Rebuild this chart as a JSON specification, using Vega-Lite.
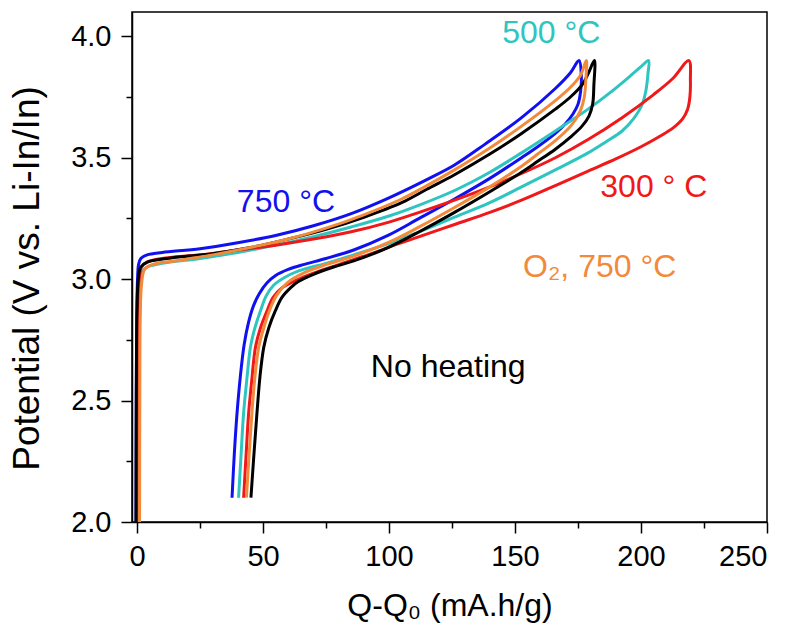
{
  "$schema": "https://vega.github.io/schema/vega-lite/v6.json",
  "width": 635,
  "height": 510,
  "autosize": "none",
  "padding": {"left": 132, "top": 12, "right": 28, "bottom": 105},
  "background": "white",
  "config": {
    "view": {"stroke": "black", "strokeWidth": 1.5},
    "font": "Liberation Sans"
  },
  "datasets": {
    "curves": [
      {"s": "750 °C", "o": 1, "q": -0.4, "v": 2.0},
      {"s": "750 °C", "o": 2, "q": -0.3, "v": 2.5},
      {"s": "750 °C", "o": 3, "q": -0.1, "v": 2.85},
      {"s": "750 °C", "o": 4, "q": 0.2, "v": 3.0},
      {"s": "750 °C", "o": 5, "q": 0.6, "v": 3.06},
      {"s": "750 °C", "o": 6, "q": 1.5, "v": 3.085},
      {"s": "750 °C", "o": 7, "q": 4, "v": 3.1},
      {"s": "750 °C", "o": 8, "q": 10, "v": 3.11},
      {"s": "750 °C", "o": 9, "q": 25, "v": 3.125},
      {"s": "750 °C", "o": 10, "q": 40, "v": 3.15},
      {"s": "750 °C", "o": 11, "q": 55, "v": 3.18},
      {"s": "750 °C", "o": 12, "q": 70, "v": 3.22},
      {"s": "750 °C", "o": 13, "q": 85, "v": 3.27},
      {"s": "750 °C", "o": 14, "q": 100, "v": 3.335},
      {"s": "750 °C", "o": 15, "q": 115, "v": 3.41},
      {"s": "750 °C", "o": 16, "q": 126, "v": 3.47},
      {"s": "750 °C", "o": 17, "q": 138, "v": 3.555},
      {"s": "750 °C", "o": 18, "q": 152.6, "v": 3.665},
      {"s": "750 °C", "o": 19, "q": 166, "v": 3.785},
      {"s": "750 °C", "o": 20, "q": 172, "v": 3.85},
      {"s": "750 °C", "o": 21, "q": 175.4, "v": 3.9},
      {"s": "750 °C", "o": 22, "q": 176.3, "v": 3.84},
      {"s": "750 °C", "o": 23, "q": 176.0, "v": 3.77},
      {"s": "750 °C", "o": 24, "q": 175.0, "v": 3.72},
      {"s": "750 °C", "o": 25, "q": 173, "v": 3.68},
      {"s": "750 °C", "o": 26, "q": 170, "v": 3.64},
      {"s": "750 °C", "o": 27, "q": 166, "v": 3.6},
      {"s": "750 °C", "o": 28, "q": 159, "v": 3.545},
      {"s": "750 °C", "o": 29, "q": 152.6, "v": 3.5},
      {"s": "750 °C", "o": 30, "q": 140, "v": 3.415},
      {"s": "750 °C", "o": 31, "q": 126, "v": 3.33},
      {"s": "750 °C", "o": 32, "q": 112, "v": 3.25},
      {"s": "750 °C", "o": 33, "q": 99.6, "v": 3.18},
      {"s": "750 °C", "o": 34, "q": 86, "v": 3.12},
      {"s": "750 °C", "o": 35, "q": 75, "v": 3.085},
      {"s": "750 °C", "o": 36, "q": 66, "v": 3.06},
      {"s": "750 °C", "o": 37, "q": 60, "v": 3.04},
      {"s": "750 °C", "o": 38, "q": 55, "v": 3.015},
      {"s": "750 °C", "o": 39, "q": 51.6, "v": 2.985},
      {"s": "750 °C", "o": 40, "q": 48.5, "v": 2.94},
      {"s": "750 °C", "o": 41, "q": 46.2, "v": 2.89},
      {"s": "750 °C", "o": 42, "q": 44.2, "v": 2.82},
      {"s": "750 °C", "o": 43, "q": 42.5, "v": 2.73},
      {"s": "750 °C", "o": 44, "q": 41, "v": 2.6},
      {"s": "750 °C", "o": 45, "q": 39.7, "v": 2.45},
      {"s": "750 °C", "o": 46, "q": 38.6, "v": 2.28},
      {"s": "750 °C", "o": 47, "q": 37.7, "v": 2.1},

      {"s": "500 °C", "o": 1, "q": 0.6, "v": 2.0},
      {"s": "500 °C", "o": 2, "q": 0.7, "v": 2.5},
      {"s": "500 °C", "o": 3, "q": 0.9, "v": 2.85},
      {"s": "500 °C", "o": 4, "q": 1.3, "v": 2.98},
      {"s": "500 °C", "o": 5, "q": 2, "v": 3.03},
      {"s": "500 °C", "o": 6, "q": 4, "v": 3.05},
      {"s": "500 °C", "o": 7, "q": 10, "v": 3.065},
      {"s": "500 °C", "o": 8, "q": 25, "v": 3.085},
      {"s": "500 °C", "o": 9, "q": 40, "v": 3.11},
      {"s": "500 °C", "o": 10, "q": 55, "v": 3.14},
      {"s": "500 °C", "o": 11, "q": 70, "v": 3.175},
      {"s": "500 °C", "o": 12, "q": 85, "v": 3.215},
      {"s": "500 °C", "o": 13, "q": 100, "v": 3.26},
      {"s": "500 °C", "o": 14, "q": 112, "v": 3.305},
      {"s": "500 °C", "o": 15, "q": 126, "v": 3.365},
      {"s": "500 °C", "o": 16, "q": 140, "v": 3.44},
      {"s": "500 °C", "o": 17, "q": 152.6, "v": 3.52},
      {"s": "500 °C", "o": 18, "q": 166, "v": 3.61},
      {"s": "500 °C", "o": 19, "q": 179, "v": 3.7},
      {"s": "500 °C", "o": 20, "q": 188, "v": 3.77},
      {"s": "500 °C", "o": 21, "q": 195, "v": 3.83},
      {"s": "500 °C", "o": 22, "q": 200, "v": 3.875},
      {"s": "500 °C", "o": 23, "q": 203, "v": 3.9},
      {"s": "500 °C", "o": 24, "q": 202.8, "v": 3.85},
      {"s": "500 °C", "o": 25, "q": 202, "v": 3.78},
      {"s": "500 °C", "o": 26, "q": 200.5, "v": 3.72},
      {"s": "500 °C", "o": 27, "q": 197, "v": 3.66},
      {"s": "500 °C", "o": 28, "q": 192.5, "v": 3.61},
      {"s": "500 °C", "o": 29, "q": 186, "v": 3.565},
      {"s": "500 °C", "o": 30, "q": 179, "v": 3.52},
      {"s": "500 °C", "o": 31, "q": 166, "v": 3.45},
      {"s": "500 °C", "o": 32, "q": 152.6, "v": 3.38},
      {"s": "500 °C", "o": 33, "q": 140, "v": 3.315},
      {"s": "500 °C", "o": 34, "q": 126, "v": 3.255},
      {"s": "500 °C", "o": 35, "q": 112, "v": 3.195},
      {"s": "500 °C", "o": 36, "q": 99.6, "v": 3.145},
      {"s": "500 °C", "o": 37, "q": 86, "v": 3.1},
      {"s": "500 °C", "o": 38, "q": 75, "v": 3.065},
      {"s": "500 °C", "o": 39, "q": 66, "v": 3.04},
      {"s": "500 °C", "o": 40, "q": 60, "v": 3.015},
      {"s": "500 °C", "o": 41, "q": 54.2, "v": 2.975},
      {"s": "500 °C", "o": 42, "q": 51.2, "v": 2.93},
      {"s": "500 °C", "o": 43, "q": 49, "v": 2.87},
      {"s": "500 °C", "o": 44, "q": 46.8, "v": 2.8},
      {"s": "500 °C", "o": 45, "q": 45, "v": 2.72},
      {"s": "500 °C", "o": 46, "q": 43.5, "v": 2.58},
      {"s": "500 °C", "o": 47, "q": 42.3, "v": 2.45},
      {"s": "500 °C", "o": 48, "q": 41.3, "v": 2.28},
      {"s": "500 °C", "o": 49, "q": 40.3, "v": 2.1},

      {"s": "300 °C", "o": 1, "q": 0.2, "v": 2.0},
      {"s": "300 °C", "o": 2, "q": 0.3, "v": 2.5},
      {"s": "300 °C", "o": 3, "q": 0.5, "v": 2.88},
      {"s": "300 °C", "o": 4, "q": 0.9, "v": 3.0},
      {"s": "300 °C", "o": 5, "q": 1.8, "v": 3.05},
      {"s": "300 °C", "o": 6, "q": 4, "v": 3.07},
      {"s": "300 °C", "o": 7, "q": 10, "v": 3.085},
      {"s": "300 °C", "o": 8, "q": 25, "v": 3.1},
      {"s": "300 °C", "o": 9, "q": 40, "v": 3.12},
      {"s": "300 °C", "o": 10, "q": 55, "v": 3.14},
      {"s": "300 °C", "o": 11, "q": 70, "v": 3.165},
      {"s": "300 °C", "o": 12, "q": 85, "v": 3.195},
      {"s": "300 °C", "o": 13, "q": 100, "v": 3.235},
      {"s": "300 °C", "o": 14, "q": 112, "v": 3.275},
      {"s": "300 °C", "o": 15, "q": 126, "v": 3.325},
      {"s": "300 °C", "o": 16, "q": 140, "v": 3.38},
      {"s": "300 °C", "o": 17, "q": 152.6, "v": 3.435},
      {"s": "300 °C", "o": 18, "q": 166, "v": 3.5},
      {"s": "300 °C", "o": 19, "q": 179, "v": 3.575},
      {"s": "300 °C", "o": 20, "q": 192.5, "v": 3.665},
      {"s": "300 °C", "o": 21, "q": 205, "v": 3.76},
      {"s": "300 °C", "o": 22, "q": 212.5, "v": 3.825},
      {"s": "300 °C", "o": 23, "q": 219, "v": 3.9},
      {"s": "300 °C", "o": 24, "q": 219.6, "v": 3.82},
      {"s": "300 °C", "o": 25, "q": 219.4, "v": 3.75},
      {"s": "300 °C", "o": 26, "q": 218.5, "v": 3.7},
      {"s": "300 °C", "o": 27, "q": 216.5, "v": 3.66},
      {"s": "300 °C", "o": 28, "q": 213, "v": 3.625},
      {"s": "300 °C", "o": 29, "q": 207, "v": 3.585},
      {"s": "300 °C", "o": 30, "q": 200, "v": 3.545},
      {"s": "300 °C", "o": 31, "q": 190, "v": 3.495},
      {"s": "300 °C", "o": 32, "q": 179, "v": 3.445},
      {"s": "300 °C", "o": 33, "q": 166, "v": 3.385},
      {"s": "300 °C", "o": 34, "q": 152.6, "v": 3.325},
      {"s": "300 °C", "o": 35, "q": 140, "v": 3.275},
      {"s": "300 °C", "o": 36, "q": 126, "v": 3.225},
      {"s": "300 °C", "o": 37, "q": 112, "v": 3.175},
      {"s": "300 °C", "o": 38, "q": 103.5, "v": 3.145},
      {"s": "300 °C", "o": 39, "q": 93, "v": 3.105},
      {"s": "300 °C", "o": 40, "q": 80, "v": 3.06},
      {"s": "300 °C", "o": 41, "q": 70, "v": 3.025},
      {"s": "300 °C", "o": 42, "q": 63, "v": 2.995},
      {"s": "300 °C", "o": 43, "q": 57.6, "v": 2.965},
      {"s": "300 °C", "o": 44, "q": 54, "v": 2.925},
      {"s": "300 °C", "o": 45, "q": 51.6, "v": 2.87},
      {"s": "300 °C", "o": 46, "q": 49, "v": 2.8},
      {"s": "300 °C", "o": 47, "q": 47, "v": 2.72},
      {"s": "300 °C", "o": 48, "q": 45.5, "v": 2.58},
      {"s": "300 °C", "o": 49, "q": 44.3, "v": 2.45},
      {"s": "300 °C", "o": 50, "q": 43.3, "v": 2.28},
      {"s": "300 °C", "o": 51, "q": 42.3, "v": 2.1},

      {"s": "No heating", "o": 1, "q": -0.4, "v": 2.0},
      {"s": "No heating", "o": 2, "q": -0.3, "v": 2.5},
      {"s": "No heating", "o": 3, "q": 0, "v": 2.88},
      {"s": "No heating", "o": 4, "q": 0.5, "v": 3.0},
      {"s": "No heating", "o": 5, "q": 1.5, "v": 3.05},
      {"s": "No heating", "o": 6, "q": 4, "v": 3.07},
      {"s": "No heating", "o": 7, "q": 12, "v": 3.085},
      {"s": "No heating", "o": 8, "q": 30, "v": 3.105},
      {"s": "No heating", "o": 9, "q": 45, "v": 3.13},
      {"s": "No heating", "o": 10, "q": 60, "v": 3.165},
      {"s": "No heating", "o": 11, "q": 75, "v": 3.205},
      {"s": "No heating", "o": 12, "q": 90, "v": 3.255},
      {"s": "No heating", "o": 13, "q": 105, "v": 3.315},
      {"s": "No heating", "o": 14, "q": 115, "v": 3.37},
      {"s": "No heating", "o": 15, "q": 126, "v": 3.43},
      {"s": "No heating", "o": 16, "q": 140, "v": 3.515},
      {"s": "No heating", "o": 17, "q": 152.6, "v": 3.6},
      {"s": "No heating", "o": 18, "q": 166, "v": 3.7},
      {"s": "No heating", "o": 19, "q": 172, "v": 3.75},
      {"s": "No heating", "o": 20, "q": 176.6, "v": 3.8},
      {"s": "No heating", "o": 21, "q": 179, "v": 3.845},
      {"s": "No heating", "o": 22, "q": 181.5, "v": 3.9},
      {"s": "No heating", "o": 23, "q": 181.3, "v": 3.8},
      {"s": "No heating", "o": 24, "q": 180.8, "v": 3.72},
      {"s": "No heating", "o": 25, "q": 179.3, "v": 3.67},
      {"s": "No heating", "o": 26, "q": 176.6, "v": 3.63},
      {"s": "No heating", "o": 27, "q": 172, "v": 3.585},
      {"s": "No heating", "o": 28, "q": 166, "v": 3.535},
      {"s": "No heating", "o": 29, "q": 159, "v": 3.485},
      {"s": "No heating", "o": 30, "q": 152.6, "v": 3.44},
      {"s": "No heating", "o": 31, "q": 140, "v": 3.36},
      {"s": "No heating", "o": 32, "q": 126, "v": 3.275},
      {"s": "No heating", "o": 33, "q": 112, "v": 3.195},
      {"s": "No heating", "o": 34, "q": 99.6, "v": 3.13},
      {"s": "No heating", "o": 35, "q": 86, "v": 3.075},
      {"s": "No heating", "o": 36, "q": 78, "v": 3.05},
      {"s": "No heating", "o": 37, "q": 70, "v": 3.02},
      {"s": "No heating", "o": 38, "q": 64, "v": 2.99},
      {"s": "No heating", "o": 39, "q": 61, "v": 2.965},
      {"s": "No heating", "o": 40, "q": 57.5, "v": 2.925},
      {"s": "No heating", "o": 41, "q": 54.9, "v": 2.87},
      {"s": "No heating", "o": 42, "q": 52.3, "v": 2.8},
      {"s": "No heating", "o": 43, "q": 50.3, "v": 2.72},
      {"s": "No heating", "o": 44, "q": 48.8, "v": 2.6},
      {"s": "No heating", "o": 45, "q": 47.6, "v": 2.45},
      {"s": "No heating", "o": 46, "q": 46.4, "v": 2.28},
      {"s": "No heating", "o": 47, "q": 45.2, "v": 2.1},

      {"s": "O2, 750 °C", "o": 1, "q": 1.0, "v": 2.0},
      {"s": "O2, 750 °C", "o": 2, "q": 1.1, "v": 2.5},
      {"s": "O2, 750 °C", "o": 3, "q": 1.3, "v": 2.85},
      {"s": "O2, 750 °C", "o": 4, "q": 1.8, "v": 2.98},
      {"s": "O2, 750 °C", "o": 5, "q": 3, "v": 3.04},
      {"s": "O2, 750 °C", "o": 6, "q": 6, "v": 3.06},
      {"s": "O2, 750 °C", "o": 7, "q": 15, "v": 3.075},
      {"s": "O2, 750 °C", "o": 8, "q": 30, "v": 3.1},
      {"s": "O2, 750 °C", "o": 9, "q": 45, "v": 3.13},
      {"s": "O2, 750 °C", "o": 10, "q": 60, "v": 3.165},
      {"s": "O2, 750 °C", "o": 11, "q": 75, "v": 3.21},
      {"s": "O2, 750 °C", "o": 12, "q": 90, "v": 3.265},
      {"s": "O2, 750 °C", "o": 13, "q": 105, "v": 3.33},
      {"s": "O2, 750 °C", "o": 14, "q": 115, "v": 3.385},
      {"s": "O2, 750 °C", "o": 15, "q": 126, "v": 3.45},
      {"s": "O2, 750 °C", "o": 16, "q": 140, "v": 3.54},
      {"s": "O2, 750 °C", "o": 17, "q": 152.6, "v": 3.63},
      {"s": "O2, 750 °C", "o": 18, "q": 166, "v": 3.735},
      {"s": "O2, 750 °C", "o": 19, "q": 172, "v": 3.79},
      {"s": "O2, 750 °C", "o": 20, "q": 176, "v": 3.84},
      {"s": "O2, 750 °C", "o": 21, "q": 178.3, "v": 3.9},
      {"s": "O2, 750 °C", "o": 22, "q": 178.1, "v": 3.82},
      {"s": "O2, 750 °C", "o": 23, "q": 177.5, "v": 3.75},
      {"s": "O2, 750 °C", "o": 24, "q": 176, "v": 3.695},
      {"s": "O2, 750 °C", "o": 25, "q": 172.5, "v": 3.635},
      {"s": "O2, 750 °C", "o": 26, "q": 166, "v": 3.57},
      {"s": "O2, 750 °C", "o": 27, "q": 159, "v": 3.515},
      {"s": "O2, 750 °C", "o": 28, "q": 152.6, "v": 3.465},
      {"s": "O2, 750 °C", "o": 29, "q": 140, "v": 3.38},
      {"s": "O2, 750 °C", "o": 30, "q": 126, "v": 3.295},
      {"s": "O2, 750 °C", "o": 31, "q": 112, "v": 3.215},
      {"s": "O2, 750 °C", "o": 32, "q": 99.6, "v": 3.15},
      {"s": "O2, 750 °C", "o": 33, "q": 86, "v": 3.095},
      {"s": "O2, 750 °C", "o": 34, "q": 75, "v": 3.06},
      {"s": "O2, 750 °C", "o": 35, "q": 66, "v": 3.025},
      {"s": "O2, 750 °C", "o": 36, "q": 59.6, "v": 2.985},
      {"s": "O2, 750 °C", "o": 37, "q": 55.5, "v": 2.935},
      {"s": "O2, 750 °C", "o": 38, "q": 52.9, "v": 2.88},
      {"s": "O2, 750 °C", "o": 39, "q": 50.3, "v": 2.8},
      {"s": "O2, 750 °C", "o": 40, "q": 48.3, "v": 2.72},
      {"s": "O2, 750 °C", "o": 41, "q": 46.8, "v": 2.6},
      {"s": "O2, 750 °C", "o": 42, "q": 45.6, "v": 2.45},
      {"s": "O2, 750 °C", "o": 43, "q": 44.5, "v": 2.28},
      {"s": "O2, 750 °C", "o": 44, "q": 43.4, "v": 2.1}
    ],
    "labels": [
      {"s": "750 °C", "t": "750 °C", "q": 59.1, "v": 3.276},
      {"s": "500 °C", "t": "500 °C", "q": 164.4, "v": 3.971},
      {"s": "300 °C", "t": "300 ° C", "q": 205.1, "v": 3.337},
      {"s": "O2, 750 °C", "t": "O₂, 750 °C", "q": 183.6, "v": 3.008},
      {"s": "No heating", "t": "No heating", "q": 123.5, "v": 2.597}
    ]
  },
  "layer": [
    {
      "data": {"name": "curves"},
      "mark": {"type": "line", "strokeWidth": 3, "interpolate": "catmull-rom", "clip": true},
      "encoding": {
        "x": {
          "field": "q", "type": "quantitative",
          "scale": {"domain": [-2, 250], "nice": false, "zero": false},
          "axis": {
            "title": "Q-Q₀ (mA.h/g)",
            "values": [0, 25, 50, 75, 100, 125, 150, 175, 200, 225, 250],
            "labelExpr": "datum.value % 50 === 0 ? datum.label : ''",
            "grid": false,
            "domainColor": "black", "domainWidth": 1.5,
            "tickColor": "black", "tickWidth": 1.5,
            "tickSize": {"condition": {"test": "datum.value % 50 !== 0", "value": 6}, "value": 11},
            "labelFontSize": 29, "labelColor": "black", "labelPadding": 9,
            "labelFont": "Liberation Sans",
            "titleFontSize": 32, "titleFontWeight": "normal", "titleColor": "black",
            "titleFont": "Liberation Sans",
            "titleBaseline": "alphabetic", "titleY": 93
          }
        },
        "y": {
          "field": "v", "type": "quantitative",
          "scale": {"domain": [2, 4.1], "nice": false, "zero": false},
          "axis": {
            "title": "Potential (V vs. Li-In/In)",
            "values": [2, 2.25, 2.5, 2.75, 3, 3.25, 3.5, 3.75, 4],
            "labelExpr": "(datum.value * 2) % 1 === 0 ? format(datum.value, '.1f') : ''",
            "grid": false,
            "domainColor": "black", "domainWidth": 1.5,
            "tickColor": "black", "tickWidth": 1.5,
            "tickSize": {"condition": {"test": "(datum.value * 2) % 1 !== 0", "value": 6}, "value": 11},
            "labelFontSize": 29, "labelColor": "black", "labelPadding": 10,
            "labelFont": "Liberation Sans",
            "titleFontSize": 37, "titleFontWeight": "normal", "titleColor": "black",
            "titleFont": "Liberation Sans",
            "titleAngle": -90, "titleBaseline": "alphabetic", "titleAlign": "center",
            "titleX": -94, "titleY": 266
          }
        },
        "order": {"field": "o", "type": "quantitative"},
        "color": {
          "field": "s", "type": "nominal", "legend": null,
          "scale": {
            "domain": ["No heating", "300 °C", "500 °C", "O2, 750 °C", "750 °C"],
            "range": ["#000000", "#f01818", "#2ec5c0", "#f28a3c", "#1010f0"]
          }
        }
      }
    },
    {
      "data": {"name": "labels"},
      "mark": {"type": "text", "fontSize": 32, "font": "Liberation Sans", "align": "center", "baseline": "alphabetic"},
      "encoding": {
        "x": {"field": "q", "type": "quantitative"},
        "y": {"field": "v", "type": "quantitative"},
        "text": {"field": "t"},
        "color": {"field": "s", "type": "nominal", "legend": null}
      }
    }
  ]
}
